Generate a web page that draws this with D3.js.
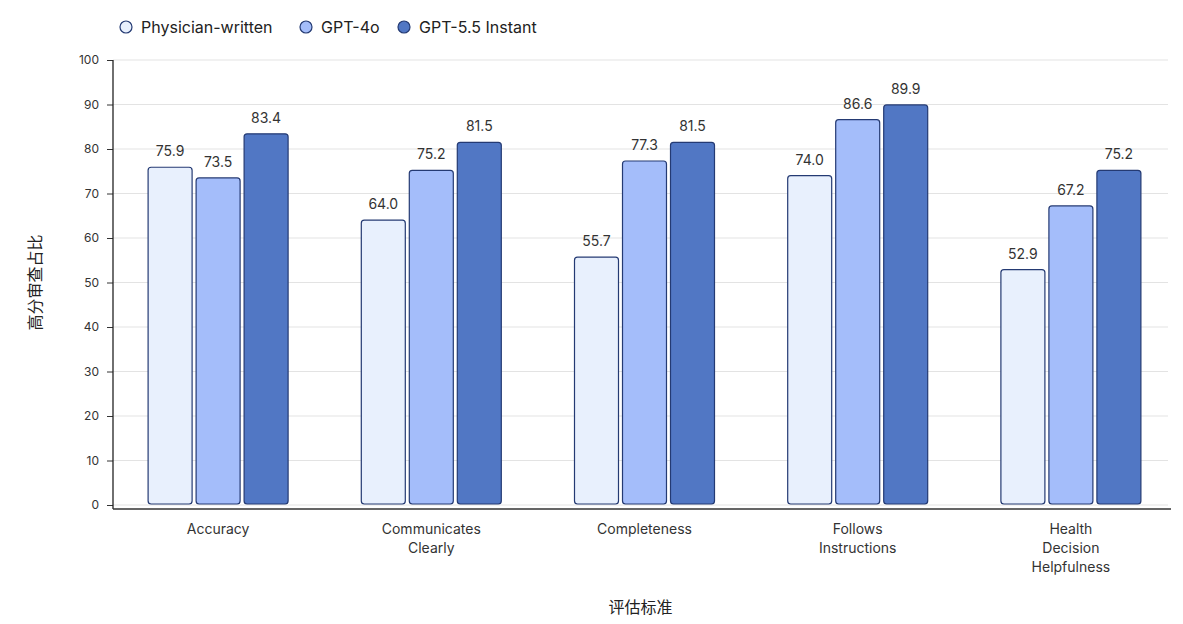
<!DOCTYPE html>
<html>
<head>
<meta charset="utf-8">
<script src="https://cdn.jsdelivr.net/npm/d3@7"></script>
<style>
  body { margin: 0; background: #fff; }
  text { font-family: Inter, "Noto Sans", "Noto Sans CJK SC", sans-serif; }
</style>
</head>
<body>
<div id="chart"></div>
<script>
// data
var categories = [
    ["Accuracy"],
    ["Communicates", "Clearly"],
    ["Completeness"],
    ["Follows", "Instructions"],
    ["Health", "Decision", "Helpfulness"]
];
var seriesNames = ["Physician-written", "GPT-4o", "GPT-5.5 Instant"];
var physician = [75.9, 64.0, 55.7, 74.0, 52.9];
var gpt4o = [73.5, 75.2, 77.3, 86.6, 67.2];
var gpt55 = [83.4, 81.5, 81.5, 89.9, 75.2];
var yTicks = [0, 10, 20, 30, 40, 50, 60, 70, 80, 90, 100];
var colors = ["#e8f0fd", "#a4bdfa", "#5177c4"];

var width = 1183,
    height = 624;
var plotLeft = 113, plotRight = 1168, plotTop = 60, plotBottom = 505;

var svg = d3.select("#chart")
    .append("svg")
    .attr("width", width)
    .attr("height", height);

var x = d3.scaleBand()
    .domain(d3.range(categories.length))
    .range([111.5, 1177.5]);

var y = d3.scaleLinear()
    .domain([0, 100])
    .range([plotBottom, plotTop]);

// gridlines
svg.append("g")
    .selectAll("line")
    .data(yTicks)
    .enter()
    .append("line")
    .attr("x1", plotLeft)
    .attr("x2", plotRight)
    .attr("y1", function (d) { return y(d); })
    .attr("y2", function (d) { return y(d); })
    .attr("stroke", "#e3e3e3")
    .attr("stroke-width", 1);

// y axis
var yAxis = svg.append("g")
    .attr("transform", "translate(" + plotLeft + ",0)")
    .call(d3.axisLeft(y).tickValues(yTicks).tickSize(6).tickPadding(8));
yAxis.select(".domain").remove();
yAxis.selectAll(".tick line").attr("stroke", "#333");
yAxis.selectAll(".tick text")
    .attr("fill", "#333")
    .style("font-size", "12px");
svg.append("line")
    .attr("x1", plotLeft).attr("x2", plotLeft)
    .attr("y1", plotTop).attr("y2", plotBottom + 4)
    .attr("stroke", "#222").attr("stroke-width", 1.3);

// bars
var series = [physician, gpt4o, gpt55];
var barW = 44, gap = 4;
var groupW = barW * 3 + gap * 2;

series.forEach(function (vals, s) {
    var g = svg.append("g");
    g.selectAll("rect")
        .data(vals)
        .enter()
        .append("rect")
        .attr("x", function (d, i) { return x(i) + x.bandwidth() / 2 - groupW / 2 + s * (barW + gap); })
        .attr("y", function (d) { return y(d); })
        .attr("width", barW)
        .attr("height", function (d) { return y(0) - y(d) - 1; })
        .attr("rx", 3)
        .attr("fill", colors[s])
        .attr("stroke", "#243a73")
        .attr("stroke-width", 1.2);
    g.selectAll("text")
        .data(vals)
        .enter()
        .append("text")
        .attr("x", function (d, i) { return x(i) + x.bandwidth() / 2 - groupW / 2 + s * (barW + gap) + barW / 2; })
        .attr("y", function (d) { return y(d) - 11; })
        .attr("text-anchor", "middle")
        .attr("fill", "#333")
        .style("font-size", "14px")
        .text(function (d) { return d.toFixed(1); });
});

// x axis
svg.append("line")
    .attr("x1", plotLeft).attr("x2", plotRight + 3)
    .attr("y1", plotBottom + 4).attr("y2", plotBottom + 4)
    .attr("stroke", "#333").attr("stroke-width", 1.5);

var xl = svg.append("g");
categories.forEach(function (lines, i) {
    var t = xl.append("text")
        .attr("x", x(i) + x.bandwidth() / 2)
        .attr("y", 534)
        .attr("text-anchor", "middle")
        .attr("fill", "#333")
        .style("font-size", "14px");
    lines.forEach(function (ln, k) {
        t.append("tspan")
            .attr("x", x(i) + x.bandwidth() / 2)
            .attr("dy", k === 0 ? 0 : 19)
            .text(ln);
    });
});

// axis titles
svg.append("text")
    .attr("x", (plotLeft + plotRight) / 2)
    .attr("y", 613)
    .attr("text-anchor", "middle")
    .attr("fill", "#222")
    .style("font-size", "16px")
    .text("评估标准");

svg.append("text")
    .attr("transform", "translate(41," + ((plotTop + plotBottom) / 2) + ") rotate(-90)")
    .attr("text-anchor", "middle")
    .attr("fill", "#222")
    .style("font-size", "16px")
    .text("高分审查占比");

// legend
var legendX = [126, 306, 404];
var legend = svg.append("g");
seriesNames.forEach(function (name, s) {
    legend.append("circle")
        .attr("cx", legendX[s])
        .attr("cy", 27)
        .attr("r", 6)
        .attr("fill", colors[s])
        .attr("stroke", "#243a73")
        .attr("stroke-width", 1.2);
    legend.append("text")
        .attr("x", legendX[s] + 15)
        .attr("y", 33)
        .attr("fill", "#222")
        .style("font-size", "16px")
        .text(name);
});
</script>
</body>
</html>
